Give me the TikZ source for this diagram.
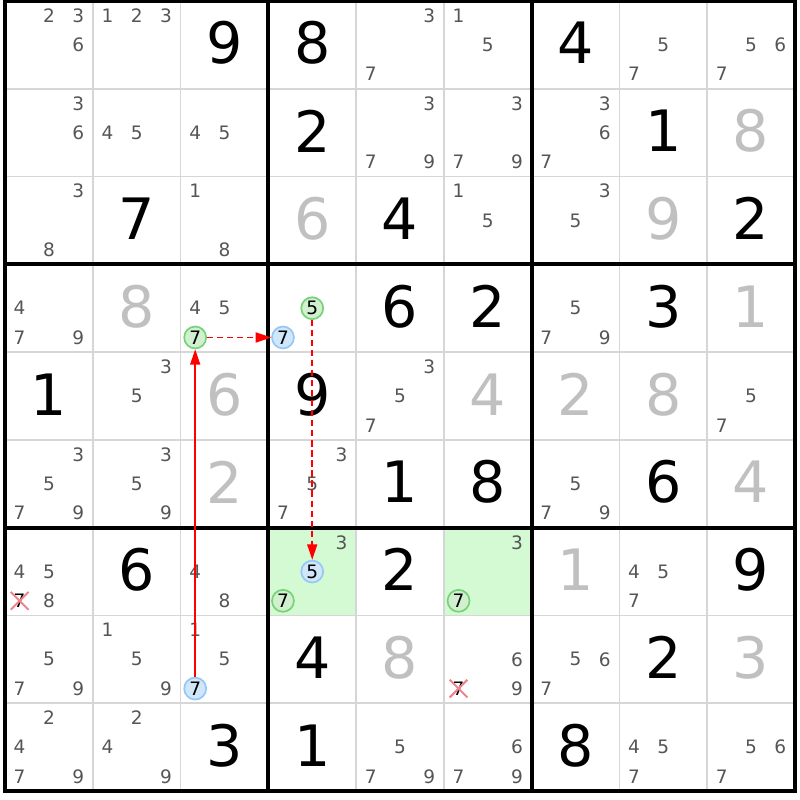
\documentclass[tikz,border=0pt]{standalone}
\usepackage{fontspec}
\setmainfont{DejaVu Sans}
\usetikzlibrary{arrows.meta,shapes.misc}
\definecolor{candgray}{RGB}{85,85,85}
\definecolor{solvedgray}{RGB}{192,192,192}
\definecolor{thingrid}{RGB}{214,214,214}
\definecolor{cellgreen}{RGB}{212,250,212}
\definecolor{ringgreen}{RGB}{120,210,120}
\definecolor{fillgreen}{RGB}{208,240,208}
\definecolor{ringblue}{RGB}{150,200,245}
\definecolor{fillblue}{RGB}{208,230,250}
\definecolor{crosspink}{RGB}{240,130,140}
\definecolor{chainred}{RGB}{255,0,0}
\tikzset{
    given/.style={font=\fontsize{37}{37}\selectfont, text=black, inner sep=0pt},
    solved/.style={given, text=solvedgray},
    cand/.style={font=\fontsize{12}{12}\selectfont, text=candgray, inner sep=0pt},
    marked/.style={cand, text=black, circle, minimum size=0.5cm, line width=1.1pt},
    greenring/.style={marked, draw=ringgreen, fill=fillgreen},
    bluering/.style={marked, draw=ringblue, fill=fillblue},
    elim/.style={cand, text=black, cross out, draw=crosspink, line width=1.3pt, minimum size=0.36cm},
    chainarrow/.style={draw=chainred, line width=1pt, -{Triangle[length=10pt,width=6.5pt,fill=chainred]}},
    weakarrow/.style={chainarrow, dash pattern=on 4pt off 2.5pt}
}
\begin{document}
\begin{tikzpicture}[x=2cm,y=-2cm]
    \useasboundingbox (-0.057,-0.0114) rectangle (9.057,9.1025);
    \fill[cellgreen] (3,6) rectangle (4,7) (5,6) rectangle (6,7);
    \foreach \i in {1,2,4,5,7,8}
        \draw[thingrid, line width=1.1pt] (\i,0) -- (\i,9) (0,\i) -- (9,\i);
    \foreach \i in {3,6}
        \draw[line width=2.6pt] (\i,0) -- (\i,9) (0,\i) -- (9,\i);
    \draw[line width=2.6pt] (0,0) rectangle (9,9);
    % givens
    \foreach \r/\c/\d in {0/2/9, 0/3/8, 0/6/4, 1/3/2, 1/7/1, 2/1/7, 2/4/4, 2/8/2,
            3/4/6, 3/5/2, 3/7/3, 4/0/1, 4/3/9, 5/4/1, 5/5/8, 5/7/6,
            6/1/6, 6/4/2, 6/8/9, 7/3/4, 7/7/2, 8/2/3, 8/3/1, 8/6/8}
        \node[given] (g\r\c) at (\c+0.5,\r+0.48) {\d};
    % solved
    \foreach \r/\c/\d in {1/8/8, 2/3/6, 2/7/9, 3/1/8, 3/8/1, 4/2/6, 4/5/4, 4/6/2,
            4/7/8, 5/2/2, 5/8/4, 6/6/1, 7/4/8, 7/8/3}
        \node[solved] (s\r\c) at (\c+0.5,\r+0.48) {\d};
    % candidates
    \foreach \r/\c/\d in {0/0/2, 0/0/3, 0/0/6, 0/1/1, 0/1/2, 0/1/3, 0/4/3, 0/4/7,
            0/5/1, 0/5/5, 0/7/5, 0/7/7, 0/8/5, 0/8/6, 0/8/7,
            1/0/3, 1/0/6, 1/1/4, 1/1/5, 1/2/4, 1/2/5, 1/4/3, 1/4/7, 1/4/9,
            1/5/3, 1/5/7, 1/5/9, 1/6/3, 1/6/6, 1/6/7,
            2/0/3, 2/0/8, 2/2/1, 2/2/8, 2/5/1, 2/5/5, 2/6/3, 2/6/5,
            3/0/4, 3/0/7, 3/0/9, 3/2/4, 3/2/5, 3/6/5, 3/6/7, 3/6/9,
            4/1/3, 4/1/5, 4/4/3, 4/4/5, 4/4/7, 4/8/5, 4/8/7,
            5/0/3, 5/0/5, 5/0/7, 5/0/9, 5/1/3, 5/1/5, 5/1/9, 5/3/3, 5/3/5, 5/3/7,
            5/6/5, 5/6/7, 5/6/9,
            6/0/4, 6/0/5, 6/0/8, 6/2/4, 6/2/8, 6/3/3, 6/5/3, 6/7/4, 6/7/5, 6/7/7,
            7/0/5, 7/0/7, 7/0/9, 7/1/1, 7/1/5, 7/1/9, 7/2/1, 7/2/5, 7/5/6, 7/5/9,
            7/6/5, 7/6/6, 7/6/7,
            8/0/2, 8/0/4, 8/0/7, 8/0/9, 8/1/2, 8/1/4, 8/1/9, 8/4/5, 8/4/7, 8/4/9,
            8/5/6, 8/5/7, 8/5/9, 8/7/4, 8/7/5, 8/7/7, 8/8/5, 8/8/6, 8/8/7}
        \node[cand] (n\r\c\d) at ({\c+1/6+mod(\d-1,3)/3},{\r+1/6+int((\d-1)/3)/3}) {\d};
    % chain
    \node[greenring] (n327) at (2.1667,3.8333) {7};
    \node[greenring] (n335) at (3.5,3.5) {5};
    \node[bluering] (n337) at (3.1667,3.8333) {7};
    \node[bluering] (n635) at (3.5,6.5) {5};
    \node[greenring] (n637) at (3.1667,6.8333) {7};
    \node[greenring] (n657) at (5.1667,6.8333) {7};
    \node[bluering] (n727) at (2.1667,7.8333) {7};
    \node[elim] (n607) at (0.1667,6.8333) {7};
    \node[elim] (n757) at (5.1667,7.8333) {7};
    \draw[chainarrow] (n727) -- (n327);
    \draw[weakarrow] (n327) -- (n337);
    \draw[weakarrow] (n335) -- (n635);
\end{tikzpicture}
\end{document}
